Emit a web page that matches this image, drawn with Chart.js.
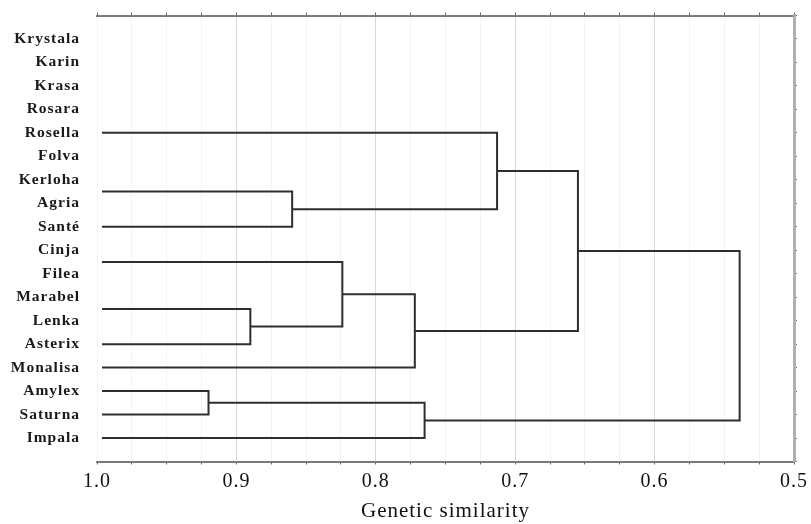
<!DOCTYPE html>
<html>
<head>
<meta charset="utf-8">
<script src="https://cdn.jsdelivr.net/npm/chart.js@4.4.1/dist/chart.umd.min.js"></script>
<style>
  html, body { margin: 0; padding: 0; background: #fff; }
  #wrap { width: 811px; height: 524px; position: relative; }
</style>
</head>
<body>
<div id="wrap"><canvas id="tree"></canvas></div>
<script>
// leaf labels, top to bottom (row index 0..17)
const leaves = ['Krystala', 'Karin', 'Krasa', 'Rosara', 'Rosella', 'Folva', 'Kerloha', 'Agria', 'Santé',
  'Cinja', 'Filea', 'Marabel', 'Lenka', 'Asterix', 'Monalisa', 'Amylex', 'Saturna', 'Impala'];

// rows where a branch leaves the 1.0 edge (node ids 0..9)
const branchRows = [4, 6.5, 8, 9.5, 11.5, 13, 14, 15, 16, 17];
const branchStart = 0.9964;

// merges (node ids 10..18): joins node A with node B at a similarity level
const mergeA = [1, 4, 7, 0, 3, 14, 13, 12, 16];
const mergeB = [2, 5, 8, 10, 11, 6, 15, 9, 17];
const mergeLevel = [0.860, 0.890, 0.920, 0.713, 0.824, 0.772, 0.655, 0.765, 0.539];

const xTicks = ['1.0', '0.9', '0.8', '0.7', '0.6', '0.5'];

const serif = "'Liberation Serif', 'Times New Roman', serif";

// node positions: row (y) and level (x)
const nodeRow = branchRows.slice();
const nodeLevel = branchRows.map(() => branchStart);
const datasets = [];
mergeLevel.forEach((lvl, i) => {
  const a = mergeA[i];
  const b = mergeB[i];
  datasets.push({
    data: [
      { x: nodeLevel[a], y: nodeRow[a] },
      { x: lvl, y: nodeRow[a] },
      { x: lvl, y: nodeRow[b] },
      { x: nodeLevel[b], y: nodeRow[b] },
    ],
    showLine: true,
    borderColor: '#2e2e2e',
    borderWidth: 2,
    pointRadius: 0,
    tension: 0,
    borderJoinStyle: 'miter',
  });
  nodeRow.push((nodeRow[a] + nodeRow[b]) / 2);
  nodeLevel.push(lvl);
});

const isMajor = (v) => Math.abs(v * 10 - Math.round(v * 10)) < 1e-6;

// fix scale sizes so the plot box lands where it is in the picture
const fixSize = (w, h) => (s) => {
  if (w !== null) s.width = w;
  if (h !== null) s.height = h;
  s.paddingTop = 0;
  s.paddingBottom = 0;
  s.paddingLeft = 0;
  s.paddingRight = 0;
};

const spacing = {
  id: 'spacing',
  beforeDraw(chart) {
    chart.ctx.letterSpacing = '1px';
  },
};

// eslint-disable-next-line no-undef, no-new
new Chart(document.getElementById('tree'), {
  type: 'scatter',
  data: { datasets },
  plugins: [spacing],
  options: {
    responsive: true,
    maintainAspectRatio: false,
    animation: false,
    layout: { padding: 0 },
    plugins: { legend: { display: false }, tooltip: { enabled: false } },
    scales: {
      x: {
        type: 'linear',
        position: 'bottom',
        reverse: true,
        min: 0.5,
        max: 1.0,
        afterFit: fixSize(null, 62.5),
        ticks: {
          stepSize: 0.025,
          autoSkip: false,
          maxRotation: 0,
          padding: 5,
          color: '#111',
          font: { family: serif, size: 20 },
          callback: (v) => (isMajor(v) ? xTicks[Math.round((1 - v) * 10)] : ''),
        },
        grid: {
          color: (c) => (isMajor(c.tick.value) && c.tick.value < 0.99 ? '#d8d8d8' : '#f4f4f4'),
          lineWidth: 1,
          tickLength: 3,
          tickColor: '#666',
        },
        border: { color: '#7a7a7a', width: 2 },
        title: {
          display: true,
          text: 'Genetic similarity',
          color: '#111',
          font: { family: serif, size: 21 },
          padding: { top: 0, bottom: 0 },
        },
      },
      x2: {
        type: 'linear',
        position: 'top',
        reverse: true,
        min: 0.5,
        max: 1.0,
        afterFit: fixSize(null, 15.5),
        ticks: { display: false, stepSize: 0.025, autoSkip: false },
        grid: { drawOnChartArea: false, tickLength: 3, tickColor: '#666' },
        border: { color: '#7a7a7a', width: 2 },
      },
      y: {
        type: 'linear',
        position: 'left',
        reverse: true,
        min: -1,
        max: 18,
        afterFit: fixSize(97, null),
        ticks: {
          stepSize: 1,
          autoSkip: false,
          padding: 17,
          color: '#1a1a1a',
          font: { family: serif, size: 15.5, weight: 'bold' },
          callback: (v) => leaves[v] ?? '',
        },
        grid: { display: false, drawTicks: false },
        border: { display: false },
      },
      y2: {
        type: 'linear',
        position: 'right',
        reverse: true,
        min: -1,
        max: 18,
        afterFit: fixSize(17, null),
        ticks: { display: false, stepSize: 1, autoSkip: false },
        grid: { drawOnChartArea: false, tickLength: 3, tickColor: '#666' },
        border: { color: '#b0b0b0', width: 3 },
      },
    },
  },
});
</script>
</body>
</html>
